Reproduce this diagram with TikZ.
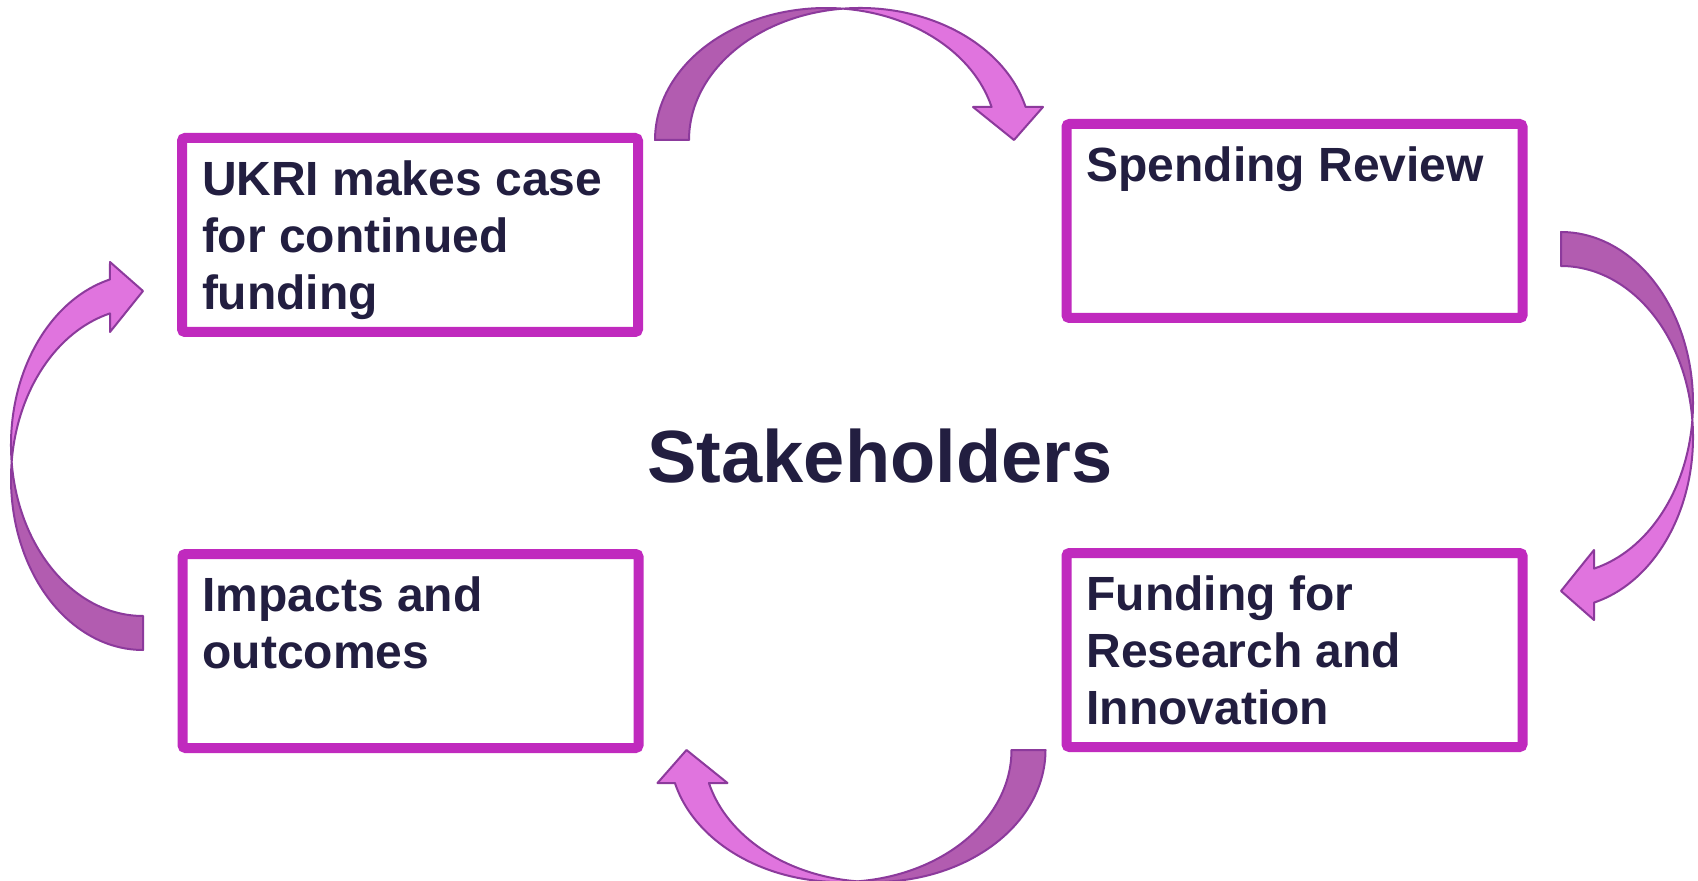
\documentclass[tikz,border=0pt]{standalone}
\usepackage{fontspec}
\setmainfont{Liberation Sans}
\definecolor{ink}{RGB}{34,30,64}
\definecolor{boxc}{RGB}{192,42,190}
\definecolor{arrdark}{RGB}{178,92,176}
\definecolor{arrlight}{RGB}{224,116,222}
\definecolor{arredge}{RGB}{140,58,156}
\newcommand\bentarrow[2]{%
  \begin{scope}[shift={#1}, rotate=#2]
    \filldraw[arrowback] (-188,0)
      arc[start angle=180, end angle=84.29, x radius=171, y radius=132]
      arc[start angle=95.71, end angle=180, x radius=171, y radius=132] -- cycle;
    \filldraw[arrowfront] (0,131.35)
      arc[start angle=95.71, end angle=14.48, x radius=171, y radius=132]
      -- (200,33) -- (171,0) -- (130,33) -- (148.6,33)
      arc[start angle=14.48, end angle=84.29, x radius=171, y radius=132] -- cycle;
  \end{scope}}
\begin{document}
\begin{tikzpicture}[x=0.5pt, y=0.5pt,
  box/.style={draw=boxc, line width=5pt, rounded corners=1.5pt,
    minimum width=228pt, minimum height=97pt, inner sep=0pt, fill=white,
    text=ink, font=\bfseries\fontsize{24}{28.5}\selectfont},
  title/.style={text=ink, font=\bfseries\fontsize{37}{44}\selectfont, inner sep=0pt},
  arrowback/.style={fill=arrdark, draw=arredge, line width=1pt, line join=round},
  arrowfront/.style={fill=arrlight, draw=arredge, line width=1pt, line join=round}]
\useasboundingbox (0,0) rectangle (1698,880);
\fill[white] (0,0) rectangle (1698,880);

\node[box] (ukri) at (410,645)
  {\parbox[c][97pt][t]{208pt}{\vspace*{8.8pt}\strut UKRI makes case\\ for continued\\ funding}};
\node[box] (spend) at (1294.5,659)
  {\parbox[c][97pt][t]{208pt}{\vspace*{8.8pt}\strut Spending Review}};
\node[box] (impact) at (410.5,229)
  {\parbox[c][97pt][t]{208pt}{\vspace*{8.8pt}\strut Impacts and\\ outcomes}};
\node[box] (fund) at (1294.5,230)
  {\parbox[c][97pt][t]{208pt}{\vspace*{8.8pt}\strut Funding for\\ Research and\\ Innovation}};

\node[title, anchor=base] (stake) at (880,398) {Stakeholders};

\bentarrow{(843,740)}{0}
\bentarrow{(1561,460)}{-90}
\bentarrow{(857.5,130)}{180}
\bentarrow{(143,418)}{90}
\end{tikzpicture}
\end{document}
